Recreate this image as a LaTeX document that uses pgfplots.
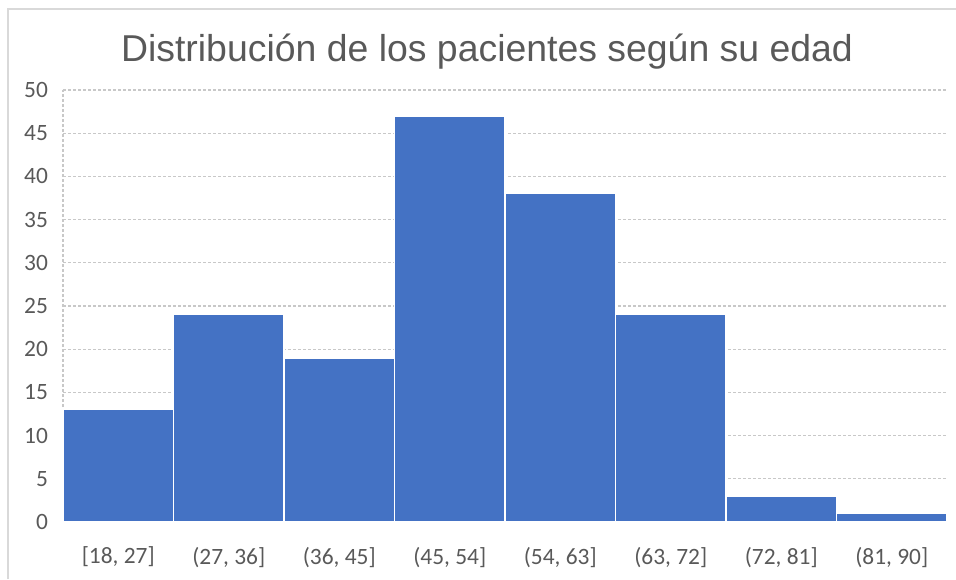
\documentclass[border=0pt]{standalone}
\usepackage{fontspec}
\setmainfont{Carlito}
\newfontfamily\titlefont{Liberation Sans}
\usepackage{pgfplots}
\pgfplotsset{compat=1.18}
\definecolor{barblue}{RGB}{68,114,196}
\definecolor{txtgray}{RGB}{89,89,89}
\definecolor{gridgray}{RGB}{200,200,200}
\definecolor{framegray}{RGB}{217,217,217}

\begin{document}
\begin{tikzpicture}
\useasboundingbox (-31.5pt,-28.5pt) rectangle (446.5pt,261pt);
\draw[framegray, line width=0.8pt] (-27.5pt,-28.5pt) -- (-27.5pt,256.5pt) -- (446.5pt,256.5pt);
\begin{axis}[
    at={(0,0)}, anchor=south west,
    scale only axis,
    width=442pt, height=216pt,
    ybar, bar width=1,
    xmin=-0.5, xmax=7.5,
    ymin=0, ymax=50,
    ytick={0,5,...,50},
    xtick=data,
    xticklabels={{[18, 27]},{(27, 36]},{(36, 45]},{(45, 54]},{(54, 63]},{(63, 72]},{(72, 81]},{(81, 90]}},
    axis lines*=left,
    axis line style={gridgray, dash pattern=on 1.5pt off 1pt, line width=0.6pt},
    major tick length=0pt,
    ymajorgrids,
    major grid style={gridgray, dash pattern=on 1.5pt off 1pt, line width=0.6pt},
    tick label style={font=\fontsize{11.7}{13}\selectfont, text=txtgray},
    xticklabel style={yshift=-9pt},
    yticklabel style={xshift=-4pt},
    /pgf/number format/assume math mode=true,
    clip=false,
]
\addplot[fill=barblue, draw=white, line width=0.8pt] coordinates {
    (0,13) (1,24) (2,19) (3,47) (4,38) (5,24) (6,3) (7,1)
};
\end{axis}
\node[anchor=base, text=txtgray, font=\titlefont\fontsize{18.7}{22}\selectfont] at (212pt,230pt) {Distribución de los pacientes según su edad};
\end{tikzpicture}
\end{document}
